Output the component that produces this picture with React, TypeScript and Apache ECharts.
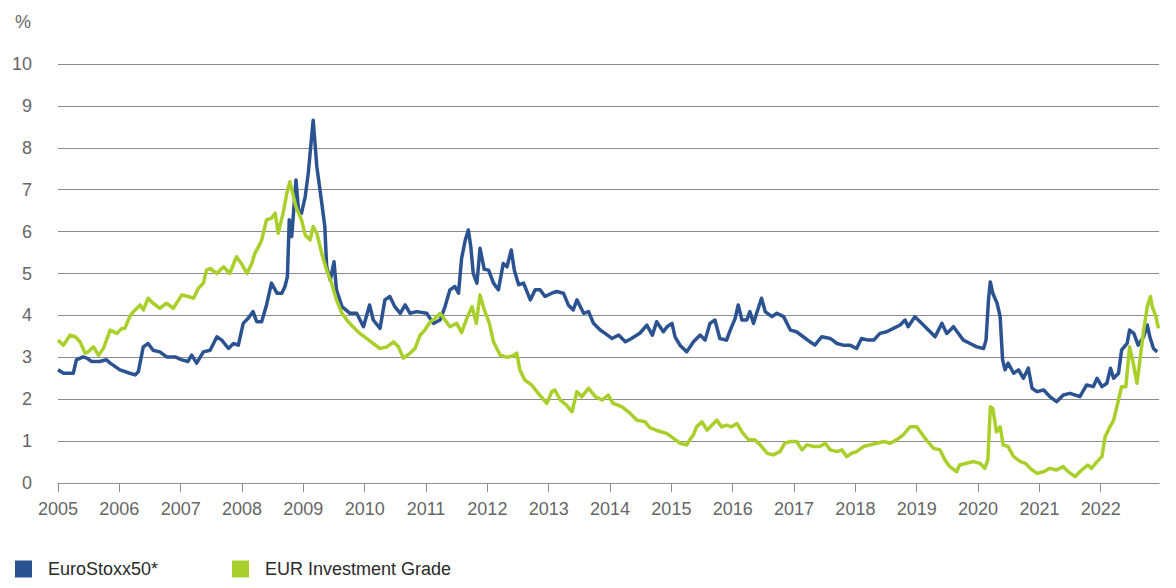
import React, { useEffect, useRef } from "react";
import * as echarts from "echarts";

const yearTicks = [2005, 2006, 2007, 2008, 2009, 2010, 2011, 2012, 2013, 2014, 2015, 2016, 2017, 2018, 2019, 2020, 2021, 2022];

const euroStoxx: [number, number][] = [
  [2005.0, 2.7], [2005.09, 2.62], [2005.25, 2.62], [2005.3, 2.94], [2005.41, 3.01], [2005.47, 2.98], [2005.55, 2.9],
  [2005.68, 2.9], [2005.79, 2.94], [2005.85, 2.86], [2006.01, 2.7], [2006.17, 2.62], [2006.26, 2.58], [2006.31, 2.66],
  [2006.39, 3.25], [2006.47, 3.33], [2006.55, 3.17], [2006.66, 3.13], [2006.77, 3.01], [2006.91, 3.01], [2007.02, 2.94],
  [2007.12, 2.9], [2007.18, 3.05], [2007.26, 2.86], [2007.37, 3.13], [2007.48, 3.17], [2007.59, 3.49], [2007.67, 3.41],
  [2007.78, 3.21], [2007.86, 3.33], [2007.94, 3.29], [2008.02, 3.81], [2008.1, 3.93], [2008.18, 4.09], [2008.24, 3.85],
  [2008.32, 3.85], [2008.4, 4.25], [2008.48, 4.77], [2008.57, 4.53], [2008.65, 4.53], [2008.7, 4.69], [2008.74, 4.92],
  [2008.77, 6.28], [2008.81, 5.88], [2008.88, 7.23], [2008.92, 6.52], [2008.97, 6.44], [2009.03, 6.83], [2009.08, 7.39],
  [2009.16, 8.66], [2009.22, 7.55], [2009.3, 6.68], [2009.35, 6.12], [2009.38, 5.16], [2009.44, 4.84], [2009.5, 5.28],
  [2009.54, 4.61], [2009.63, 4.21], [2009.76, 4.05], [2009.87, 4.05], [2009.98, 3.73], [2010.08, 4.25], [2010.14, 3.89],
  [2010.25, 3.69], [2010.33, 4.37], [2010.41, 4.45], [2010.49, 4.21], [2010.58, 4.05], [2010.66, 4.25], [2010.74, 4.05],
  [2010.85, 4.09], [2011.01, 4.05], [2011.12, 3.81], [2011.23, 3.89], [2011.31, 4.21], [2011.39, 4.61], [2011.47, 4.69],
  [2011.53, 4.53], [2011.58, 5.36], [2011.64, 5.8], [2011.69, 6.04], [2011.73, 5.64], [2011.77, 5.0], [2011.83, 4.77],
  [2011.88, 5.6], [2011.95, 5.1], [2012.02, 5.08], [2012.1, 4.77], [2012.18, 4.61], [2012.26, 5.24], [2012.32, 5.16],
  [2012.39, 5.56], [2012.44, 5.08], [2012.51, 4.73], [2012.59, 4.77], [2012.7, 4.37], [2012.78, 4.61], [2012.86, 4.61],
  [2012.94, 4.45], [2013.05, 4.53], [2013.13, 4.57], [2013.24, 4.53], [2013.32, 4.25], [2013.4, 4.13], [2013.46, 4.37],
  [2013.57, 4.05], [2013.65, 4.09], [2013.73, 3.81], [2013.84, 3.65], [2013.92, 3.57], [2014.03, 3.45], [2014.14, 3.53],
  [2014.25, 3.37], [2014.35, 3.45], [2014.49, 3.58], [2014.6, 3.77], [2014.69, 3.53], [2014.76, 3.85], [2014.87, 3.61],
  [2014.93, 3.73], [2015.01, 3.81], [2015.06, 3.49], [2015.14, 3.29], [2015.25, 3.13], [2015.36, 3.37], [2015.47, 3.53],
  [2015.55, 3.41], [2015.63, 3.81], [2015.71, 3.89], [2015.79, 3.45], [2015.9, 3.41], [2015.96, 3.65], [2016.04, 3.93],
  [2016.09, 4.25], [2016.15, 3.89], [2016.23, 3.89], [2016.28, 4.09], [2016.34, 3.81], [2016.39, 4.05], [2016.47, 4.41],
  [2016.53, 4.09], [2016.64, 3.97], [2016.72, 4.05], [2016.83, 3.97], [2016.94, 3.65], [2017.04, 3.61], [2017.15, 3.49],
  [2017.26, 3.37], [2017.34, 3.29], [2017.45, 3.49], [2017.59, 3.45], [2017.7, 3.33], [2017.8, 3.29], [2017.91, 3.29],
  [2018.02, 3.21], [2018.1, 3.45], [2018.21, 3.41], [2018.3, 3.41], [2018.4, 3.57], [2018.51, 3.61], [2018.62, 3.69],
  [2018.73, 3.77], [2018.81, 3.89], [2018.86, 3.73], [2018.97, 3.97], [2019.08, 3.81], [2019.19, 3.65], [2019.3, 3.49],
  [2019.41, 3.81], [2019.49, 3.57], [2019.6, 3.73], [2019.68, 3.57], [2019.76, 3.41], [2019.87, 3.33], [2019.98, 3.25],
  [2020.09, 3.21], [2020.13, 3.41], [2020.17, 4.37], [2020.2, 4.8], [2020.24, 4.53], [2020.31, 4.29], [2020.36, 3.97],
  [2020.4, 2.94], [2020.44, 2.7], [2020.49, 2.86], [2020.58, 2.62], [2020.66, 2.7], [2020.74, 2.5], [2020.82, 2.74],
  [2020.88, 2.26], [2020.96, 2.18], [2021.07, 2.22], [2021.17, 2.06], [2021.28, 1.94], [2021.39, 2.1], [2021.5, 2.14],
  [2021.66, 2.06], [2021.77, 2.34], [2021.88, 2.3], [2021.94, 2.5], [2022.02, 2.3], [2022.1, 2.38], [2022.16, 2.74],
  [2022.21, 2.5], [2022.29, 2.62], [2022.34, 3.17], [2022.43, 3.33], [2022.47, 3.65], [2022.54, 3.57], [2022.61, 3.29],
  [2022.7, 3.49], [2022.76, 3.77], [2022.8, 3.49], [2022.86, 3.21], [2022.92, 3.13],
];

const eurIG: [number, number][] = [
  [2005.0, 3.41], [2005.09, 3.29], [2005.2, 3.53], [2005.28, 3.49], [2005.36, 3.37], [2005.44, 3.1], [2005.49, 3.13],
  [2005.58, 3.25], [2005.66, 3.05], [2005.74, 3.21], [2005.85, 3.65], [2005.96, 3.57], [2006.04, 3.69], [2006.09, 3.69],
  [2006.17, 3.97], [2006.23, 4.09], [2006.34, 4.25], [2006.39, 4.13], [2006.47, 4.41], [2006.55, 4.29], [2006.66, 4.17],
  [2006.77, 4.29], [2006.88, 4.17], [2007.02, 4.49], [2007.12, 4.45], [2007.21, 4.41], [2007.29, 4.65], [2007.37, 4.77],
  [2007.42, 5.08], [2007.48, 5.12], [2007.59, 5.0], [2007.7, 5.16], [2007.8, 5.0], [2007.91, 5.4], [2007.99, 5.24],
  [2008.08, 5.0], [2008.16, 5.24], [2008.21, 5.48], [2008.27, 5.64], [2008.32, 5.8], [2008.4, 6.28], [2008.48, 6.32],
  [2008.54, 6.44], [2008.59, 5.96], [2008.67, 6.44], [2008.73, 6.91], [2008.78, 7.19], [2008.84, 6.83], [2008.88, 6.59],
  [2008.97, 6.28], [2009.03, 5.92], [2009.11, 5.8], [2009.16, 6.12], [2009.22, 5.96], [2009.3, 5.48], [2009.38, 5.08],
  [2009.46, 4.77], [2009.54, 4.37], [2009.63, 4.05], [2009.73, 3.85], [2009.81, 3.73], [2009.92, 3.57], [2010.03, 3.45],
  [2010.14, 3.33], [2010.25, 3.21], [2010.36, 3.25], [2010.47, 3.37], [2010.55, 3.25], [2010.63, 2.98], [2010.74, 3.1],
  [2010.82, 3.21], [2010.9, 3.52], [2010.98, 3.65], [2011.07, 3.85], [2011.15, 3.93], [2011.23, 4.05], [2011.31, 3.89],
  [2011.39, 3.73], [2011.5, 3.81], [2011.58, 3.59], [2011.66, 3.91], [2011.75, 4.21], [2011.82, 3.81], [2011.88, 4.49],
  [2011.95, 4.13], [2012.03, 3.83], [2012.1, 3.37], [2012.21, 3.05], [2012.32, 3.0], [2012.41, 3.03], [2012.48, 3.1],
  [2012.53, 2.7], [2012.61, 2.46], [2012.72, 2.34], [2012.83, 2.14], [2012.97, 1.9], [2013.05, 2.18], [2013.1, 2.22],
  [2013.19, 1.98], [2013.29, 1.86], [2013.38, 1.7], [2013.46, 2.18], [2013.54, 2.06], [2013.65, 2.26], [2013.76, 2.06],
  [2013.87, 1.98], [2013.97, 2.1], [2014.05, 1.9], [2014.19, 1.82], [2014.33, 1.66], [2014.44, 1.5], [2014.57, 1.46],
  [2014.65, 1.32], [2014.79, 1.24], [2014.93, 1.18], [2015.03, 1.07], [2015.14, 0.95], [2015.25, 0.91], [2015.3, 1.03],
  [2015.36, 1.15], [2015.41, 1.34], [2015.5, 1.46], [2015.58, 1.26], [2015.66, 1.38], [2015.74, 1.5], [2015.82, 1.34],
  [2015.9, 1.38], [2015.98, 1.34], [2016.07, 1.42], [2016.15, 1.22], [2016.26, 1.03], [2016.36, 1.03], [2016.45, 0.91],
  [2016.56, 0.71], [2016.66, 0.67], [2016.77, 0.75], [2016.85, 0.95], [2016.94, 0.99], [2017.04, 0.99], [2017.13, 0.79],
  [2017.21, 0.91], [2017.32, 0.87], [2017.42, 0.87], [2017.51, 0.95], [2017.59, 0.79], [2017.7, 0.75], [2017.78, 0.79],
  [2017.86, 0.63], [2017.94, 0.71], [2018.02, 0.75], [2018.13, 0.87], [2018.24, 0.91], [2018.35, 0.95], [2018.46, 0.99],
  [2018.57, 0.95], [2018.67, 1.03], [2018.78, 1.15], [2018.89, 1.34], [2019.0, 1.34], [2019.11, 1.12], [2019.19, 0.97],
  [2019.27, 0.83], [2019.38, 0.79], [2019.46, 0.55], [2019.54, 0.39], [2019.65, 0.27], [2019.7, 0.43], [2019.81, 0.47],
  [2019.92, 0.51], [2020.03, 0.47], [2020.11, 0.35], [2020.16, 0.55], [2020.2, 1.82], [2020.24, 1.78], [2020.3, 1.22],
  [2020.36, 1.34], [2020.41, 0.91], [2020.49, 0.87], [2020.58, 0.63], [2020.69, 0.51], [2020.77, 0.47], [2020.85, 0.35],
  [2020.96, 0.23], [2021.07, 0.27], [2021.17, 0.35], [2021.28, 0.31], [2021.39, 0.39], [2021.47, 0.27], [2021.58, 0.15],
  [2021.66, 0.27], [2021.79, 0.43], [2021.85, 0.35], [2021.94, 0.51], [2022.02, 0.63], [2022.07, 1.1], [2022.15, 1.34],
  [2022.21, 1.5], [2022.29, 1.98], [2022.34, 2.3], [2022.41, 2.3], [2022.47, 3.25], [2022.53, 2.86], [2022.59, 2.38],
  [2022.64, 2.94], [2022.7, 3.65], [2022.76, 4.21], [2022.81, 4.45], [2022.84, 4.21], [2022.9, 3.97], [2022.94, 3.69],
];

const seriesNames = ["EuroStoxx50*", "EUR Investment Grade"];
const seriesColors = ["#2b5291", "#a8cf2a"];

const FONT = "'Liberation Sans', Arial, sans-serif";
const GRID_COLOR = "#8c8c8c";
const LABEL_COLOR = "#666666";

export default function App() {
  const ref = useRef<HTMLDivElement>(null);
  useEffect(() => {
    if (!ref.current) return;
    const chart = echarts.init(ref.current, undefined, { renderer: "svg" });
    const legendBase = {
      orient: "horizontal",
      top: 555,
      itemWidth: 17,
      itemHeight: 17,
      icon: "rect",
      selectedMode: false,
      textStyle: { fontFamily: FONT, fontSize: 18, color: "#2a2a2a", padding: [0, 0, 0, 11] },
    };
    chart.setOption({
      animation: false,
      backgroundColor: "#ffffff",
      textStyle: { fontFamily: FONT },
      grid: { left: 58, right: 17, top: 64, bottom: 105, containLabel: false },
      graphic: [
        {
          type: "text",
          left: 15,
          top: 13,
          style: { text: "%", fontFamily: FONT, fontSize: 18, fill: LABEL_COLOR },
        },
      ],
      legend: [
        { ...legendBase, left: 10, data: [seriesNames[0]] },
        { ...legendBase, left: 227, data: [seriesNames[1]] },
      ],
      xAxis: {
        type: "value",
        min: 2005,
        max: 2022.95,
        splitLine: { show: false },
        axisLine: { show: true, lineStyle: { color: GRID_COLOR, width: 1 } },
        axisTick: { show: true, length: 9, lineStyle: { color: GRID_COLOR, width: 1 }, customValues: yearTicks },
        axisLabel: {
          customValues: yearTicks,
          margin: 17,
          color: LABEL_COLOR,
          fontSize: 18,
          fontFamily: FONT,
          formatter: (v: number) => String(Math.round(v)),
        },
      },
      yAxis: {
        type: "value",
        min: 0,
        max: 10,
        interval: 1,
        axisLine: { show: false },
        axisTick: { show: false },
        splitLine: { show: true, lineStyle: { color: GRID_COLOR, width: 1 } },
        axisLabel: { margin: 26, color: LABEL_COLOR, fontSize: 18, fontFamily: FONT },
      },
      series: [
        {
          name: seriesNames[0],
          type: "line",
          data: euroStoxx,
          showSymbol: false,
          symbol: "none",
          color: seriesColors[0],
          lineStyle: { width: 3.5, color: seriesColors[0], join: "round" },
          z: 2,
        },
        {
          name: seriesNames[1],
          type: "line",
          data: eurIG,
          showSymbol: false,
          symbol: "none",
          color: seriesColors[1],
          lineStyle: { width: 3.5, color: seriesColors[1], join: "round" },
          z: 3,
        },
      ],
    });
    return () => chart.dispose();
  }, []);
  return (
    <div
      ref={ref}
      style={{ position: "fixed", left: 0, top: 0, width: 1176, height: 588, background: "#fff" }}
    />
  );
}
